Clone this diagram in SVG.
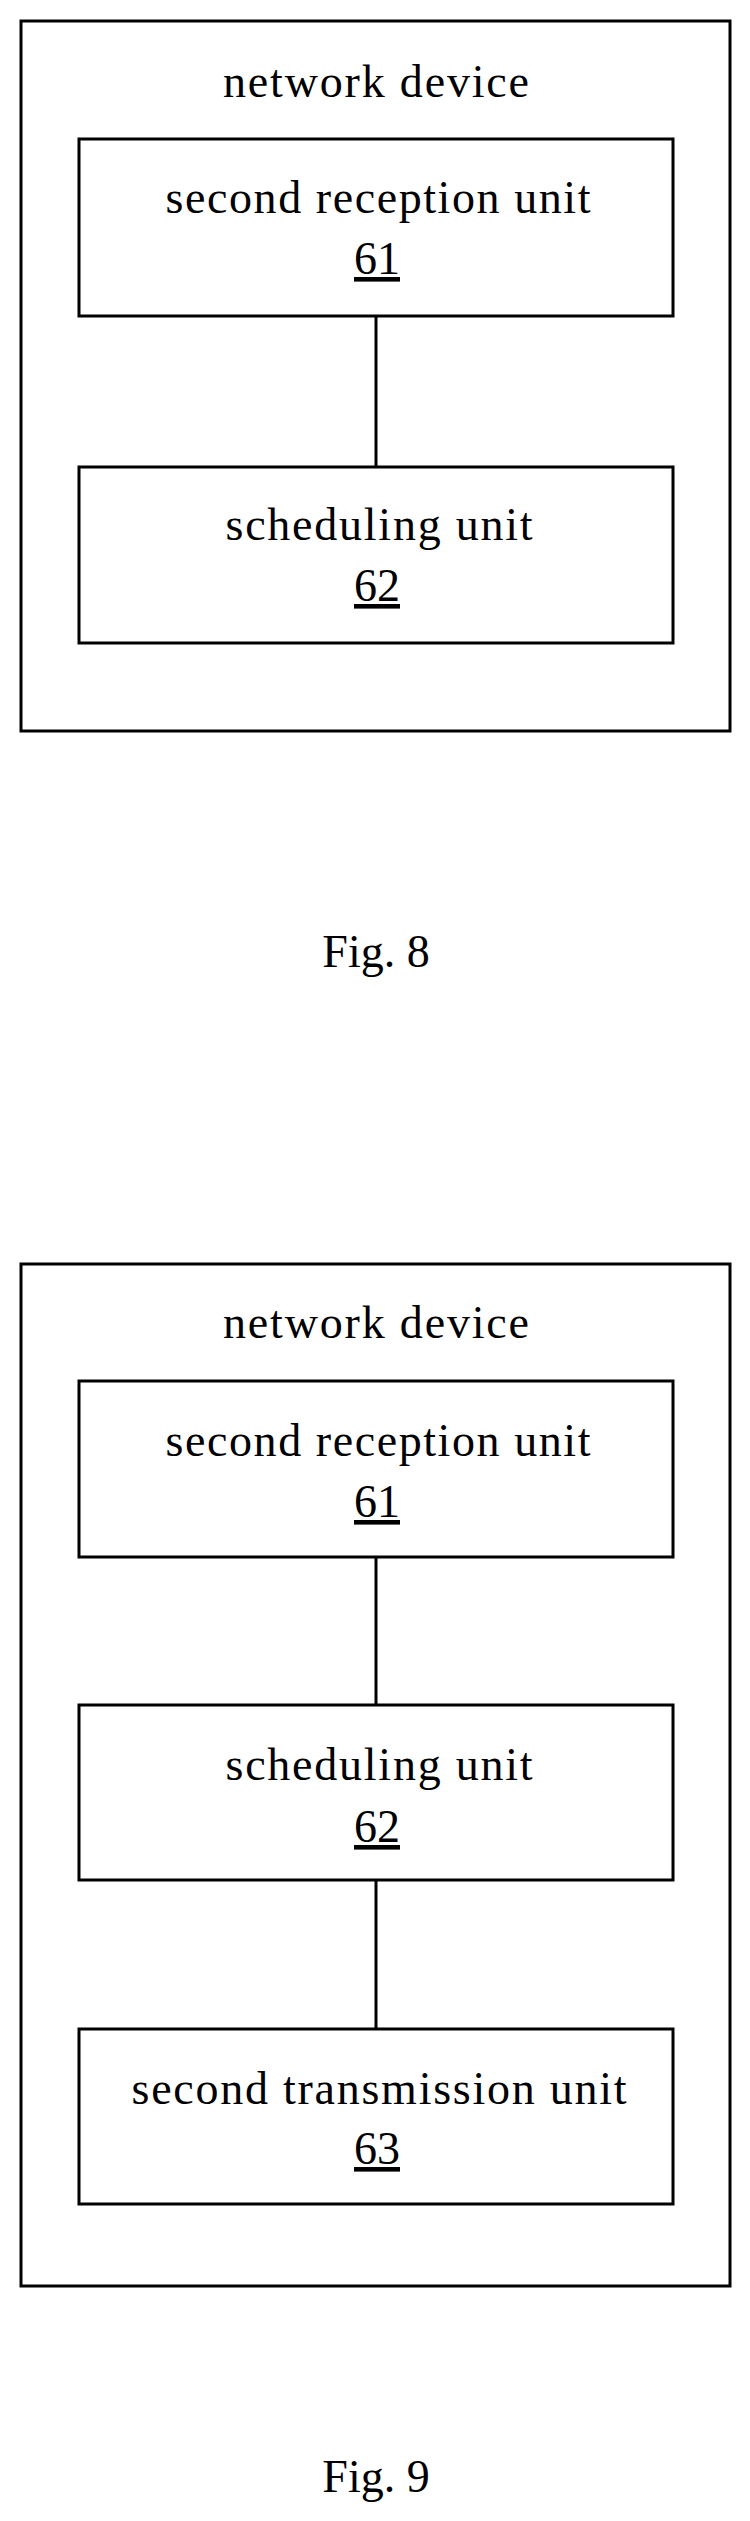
<svg xmlns="http://www.w3.org/2000/svg" width="750" height="2521" viewBox="0 0 750 2521">
<style>
rect{fill:none;stroke:#000;stroke-width:3}
line{stroke:#000;stroke-width:3}
text{font-family:"Liberation Serif",serif;font-size:46px;fill:#000;text-anchor:middle}
.n{text-decoration:underline}
</style>
<rect width="750" height="2521" fill="#fff" stroke="none" style="fill:#fff;stroke:none"/>
<g id="fig8">
<g id="device8"><rect x="21" y="21" width="709" height="710"/><text x="376" y="97" textLength="306" lengthAdjust="spacing">network device</text></g>
<g id="unit61a"><rect x="79" y="139" width="594" height="177"/><text x="378" y="213" textLength="425" lengthAdjust="spacing">second reception unit</text><text class="n" x="377" y="274">61</text></g>
<g id="unit62a"><rect x="79" y="467" width="594" height="176"/><text x="379" y="540" textLength="307" lengthAdjust="spacing">scheduling unit</text><text class="n" x="377" y="601">62</text></g>
<g id="conn8"><line x1="376" y1="316" x2="376" y2="467"/></g>
<text x="376" y="967">Fig. 8</text>
</g>
<g id="fig9">
<g id="device9"><rect x="21" y="1264" width="709" height="1022"/><text x="376" y="1338" textLength="306" lengthAdjust="spacing">network device</text></g>
<g id="unit61b"><rect x="79" y="1381" width="594" height="176"/><text x="378" y="1456" textLength="425" lengthAdjust="spacing">second reception unit</text><text class="n" x="377" y="1517">61</text></g>
<g id="unit62b"><rect x="79" y="1705" width="594" height="175"/><text x="379" y="1780" textLength="307" lengthAdjust="spacing">scheduling unit</text><text class="n" x="377" y="1842">62</text></g>
<g id="unit63"><rect x="79" y="2029" width="594" height="175"/><text x="379" y="2104" textLength="495" lengthAdjust="spacing">second transmission unit</text><text class="n" x="377" y="2164">63</text></g>
<g id="conn9"><line x1="376" y1="1557" x2="376" y2="1705"/><line x1="376" y1="1880" x2="376" y2="2029"/></g>
<text x="376" y="2492">Fig. 9</text>
</g>
</svg>
